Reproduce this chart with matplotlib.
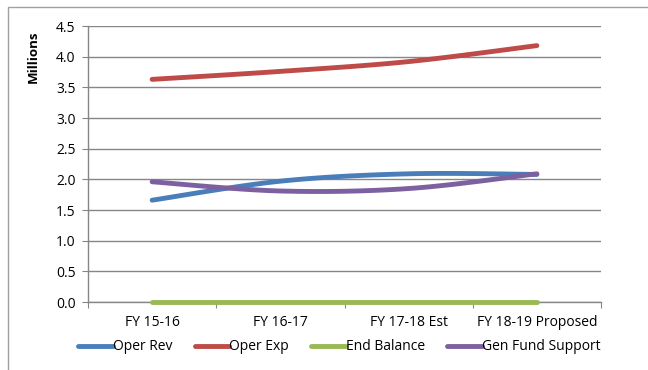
import numpy as np
import matplotlib.pyplot as plt
from matplotlib.patches import Rectangle

years = ['FY 15-16', 'FY 16-17', 'FY 17-18 Est', 'FY 18-19 Proposed']
oper_rev = [1.66, 1.97, 2.09, 2.08]
oper_exp = [3.63, 3.76, 3.92, 4.18]
end_balance = [0.0, 0.0, 0.0, 0.0]
gen_fund = [1.96, 1.81, 1.85, 2.09]

series = [('Oper Rev', oper_rev, '#4A7EBB'),
          ('Oper Exp', oper_exp, '#BE4B48'),
          ('End Balance', end_balance, '#98B954'),
          ('Gen Fund Support', gen_fund, '#7D60A0')]


def smooth(xs, ys, n=40):
    '''Excel-style smoothed line: Catmull-Rom segments as cubic Beziers.'''
    p = np.column_stack([xs, ys]).astype(float)
    p = np.vstack([p[0], p, p[-1]])
    out = []
    t = np.linspace(0, 1, n)[:, None]
    for i in range(1, len(p) - 2):
        b0 = p[i]
        b3 = p[i + 1]
        b1 = b0 + (p[i + 1] - p[i - 1]) / 6
        b2 = b3 - (p[i + 2] - p[i]) / 6
        seg = ((1 - t) ** 3) * b0 + 3 * ((1 - t) ** 2) * t * b1 + 3 * (1 - t) * t ** 2 * b2 + t ** 3 * b3
        out.append(seg)
    out = np.vstack(out)
    return out[:, 0], out[:, 1]


plt.rcParams['font.family'] = ['Open Sans', 'DejaVu Sans']

fig = plt.figure(figsize=(6.48, 3.70), dpi=100)
ax = fig.add_axes([88 / 648, 1 - 302 / 370, (601 - 88) / 648, (302 - 26) / 370])

# outer chart border (only left and top visible in the crop)
fig.patches.append(Rectangle((8 / 648, -0.1), 1.2, 1 - 7 / 370 + 0.1, transform=fig.transFigure,
                             fill=False, edgecolor='#A0A0A0', linewidth=1.0))

xpos = np.arange(len(years)) + 0.5
for name, vals, col in series:
    sx, sy = smooth(xpos, vals)
    ax.plot(sx, sy, color=col, linewidth=3.5, solid_capstyle='round', label=name,
            zorder=3, clip_on=False)

gray = '#868686'
ax.set_xlim(0, len(years))
ax.set_ylim(0, 4.5)
ax.set_yticks(np.arange(0, 4.51, 0.5))
ax.yaxis.set_major_formatter('{x:.1f}')
ax.set_xticks(np.arange(0, len(years) + 1))
ax.set_xticklabels([])
ax.set_xticks(xpos, minor=True)
ax.set_xticklabels(years, minor=True)
ax.tick_params(axis='x', which='major', length=4, color=gray, direction='out')
ax.tick_params(axis='x', which='minor', length=0, pad=9, labelsize=10)
ax.tick_params(axis='y', length=4, color=gray, labelsize=10, pad=5)
ax.grid(axis='y', color=gray, linewidth=1.0, zorder=0)
for s in ['top', 'right']:
    ax.spines[s].set_visible(False)
for s in ['left', 'bottom']:
    ax.spines[s].set_color(gray)
    ax.spines[s].set_linewidth(1.0)

ax.set_ylabel('Millions', fontweight='bold', fontsize=9.5)
ax.yaxis.set_label_coords(-0.094, 0.888)

ax.legend(loc='center', bbox_to_anchor=(0.5 - 5 / 513, (302 - 347) / 276), ncol=4, frameon=False,
          handlelength=2.5, handletextpad=0.0, columnspacing=1.6, fontsize=10)

fig.savefig('out.png', dpi=100)
